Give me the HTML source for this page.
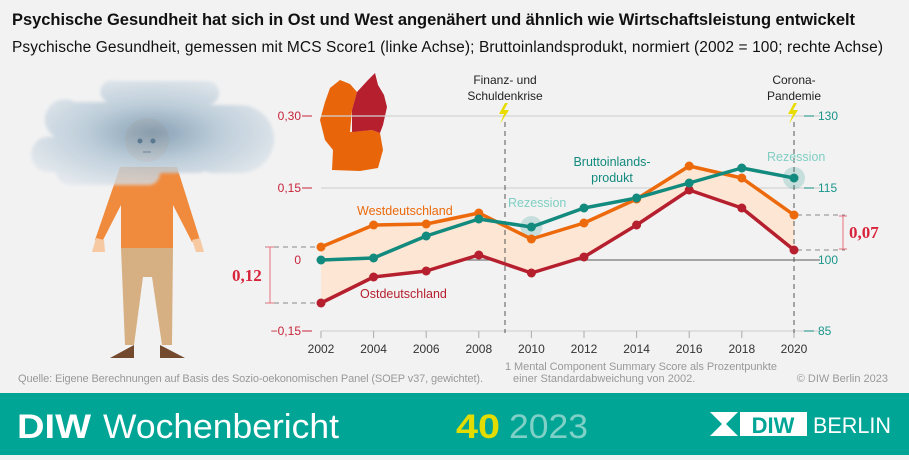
<!DOCTYPE html>
<html><head><meta charset="utf-8"><style>
body{margin:0;width:909px;height:455px;overflow:hidden;background:#f2f2f2;font-family:"Liberation Sans",sans-serif}
</style></head><body>
<svg width="909" height="455" viewBox="0 0 909 455" xmlns="http://www.w3.org/2000/svg" font-family="Liberation Sans, sans-serif">
<defs>
<radialGradient id="cg" cx="0.5" cy="0.5" r="0.6"><stop offset="0" stop-color="#7895ad" stop-opacity="0.95"/><stop offset="0.45" stop-color="#b3c6d4" stop-opacity="0.92"/><stop offset="1" stop-color="#e2e8ee" stop-opacity="0.85"/></radialGradient>
<filter id="bl"><feGaussianBlur stdDeviation="1.5"/></filter>
</defs>
<rect width="909" height="455" fill="#f2f2f2"/>
<text x="12" y="25" font-size="16.5" font-weight="bold" fill="#111" textLength="843">Psychische Gesundheit hat sich in Ost und West angenähert und ähnlich wie Wirtschaftsleistung entwickelt</text>
<text x="12" y="52" font-size="15.5" fill="#111" textLength="871">Psychische Gesundheit, gemessen mit MCS Score1 (linke Achse); Bruttoinlandsprodukt, normiert (2002 = 100; rechte Achse)</text>
<!-- person -->
<path d="M95 240 L120 167 L177 167 L200 240 L192 242 L173 205 L173 248 L121 248 L121 205 L102 242Z" fill="#f08a3c"/>
<path d="M121 248 L173 248 L172 345 L162 345 L152 277 L143 277 L134 345 L125 345Z" fill="#d6b083"/>
<path d="M96 238 L104 240 L105 252 L98 252 L92 252Z M192 240 L200 238 L204 252 L196 252Z" fill="#f7c9a3"/>
<path d="M110 358 L134 345 L134 358Z M160 345 L185 358 L160 358Z" fill="#744a2e"/>
<circle cx="147" cy="140" r="22" fill="#f7c9a3"/>
<g filter="url(#bl)" opacity="0.92"><path d="M115 81 H207 A12 12 0 0 1 207 105 H240 A20 20 0 0 1 240 173 H210 A10 10 0 0 0 200 173 H160 A12 12 0 0 1 150 185 H70 A14 14 0 0 1 56 172 H45 A18 18 0 0 1 45 137 H55 A20 20 0 0 1 75 102 H108 A10 10 0 0 1 115 81Z" fill="url(#cg)"/></g>
<circle cx="140" cy="141" r="2.5" fill="#5a7890"/><circle cx="153" cy="141" r="2.5" fill="#5a7890"/>
<line x1="143" y1="152" x2="151" y2="152" stroke="#6e8698" stroke-width="1"/>
<!-- map -->
<path d="M330 88 L340 80 L350 84 L357 92 L352 110 L350 132 L372 130 L380 133 L383 150 L378 168 L360 171 L332 170 L333 150 L325 140 L320 120 L325 102Z" fill="#e8650a"/>
<path d="M357 92 L368 80 L375 73 L378 85 L384 95 L387 107 L383 125 L380 133 L372 130 L352 132 L352 110Z" fill="#b51f2e"/>
<!-- grid -->
<g stroke="#d4d4d4" stroke-width="1.2"><line x1="321" y1="116" x2="820" y2="116"/><line x1="321" y1="188" x2="820" y2="188"/><line x1="321" y1="331" x2="820" y2="331"/></g>
<line x1="321" y1="260" x2="820" y2="260" stroke="#777" stroke-width="1.2"/>
<g stroke="#aaa"><line x1="321" y1="331" x2="321" y2="338"/><line x1="373.6" y1="331" x2="373.6" y2="338"/><line x1="426.2" y1="331" x2="426.2" y2="338"/><line x1="478.8" y1="331" x2="478.8" y2="338"/><line x1="531.4" y1="331" x2="531.4" y2="338"/><line x1="584" y1="331" x2="584" y2="338"/><line x1="636.6" y1="331" x2="636.6" y2="338"/><line x1="689.2" y1="331" x2="689.2" y2="338"/><line x1="741.8" y1="331" x2="741.8" y2="338"/><line x1="794" y1="331" x2="794" y2="338"/></g>
<g font-size="12" fill="#333" text-anchor="middle"><text x="321" y="353">2002</text><text x="373.6" y="353">2004</text><text x="426.2" y="353">2006</text><text x="478.8" y="353">2008</text><text x="531.4" y="353">2010</text><text x="584" y="353">2012</text><text x="636.6" y="353">2014</text><text x="689.2" y="353">2016</text><text x="741.8" y="353">2018</text><text x="794" y="353">2020</text></g>
<g font-size="12" fill="#c8243a" text-anchor="end"><text x="301" y="120">0,30</text><text x="301" y="192">0,15</text><text x="301" y="264">0</text><text x="301" y="335">−0,15</text></g>
<g stroke="#c8243a"><line x1="302" y1="116" x2="312" y2="116"/><line x1="302" y1="188" x2="312" y2="188"/><line x1="302" y1="331" x2="312" y2="331"/></g>
<g font-size="12" fill="#1a968a"><text x="818" y="120">130</text><text x="818" y="192">115</text><text x="818" y="264">100</text><text x="818" y="335">85</text></g>
<g stroke="#1a968a"><line x1="804" y1="116" x2="814" y2="116"/><line x1="804" y1="188" x2="814" y2="188"/><line x1="804" y1="331" x2="814" y2="331"/></g>
<!-- band -->
<path d="M321 247 L373.6 225 L426.2 224 L478.8 213 L531.4 239 L584 223 L636.6 199 L689.2 166 L741.8 178 L794 215 L794 250 L741.8 208 L689.2 190 L636.6 225 L584 257 L531.4 273 L478.8 255 L426.2 271 L373.6 277 L321 303Z" fill="#fde6d3"/>
<!-- vlines -->
<g stroke="#555" stroke-dasharray="5,4"><line x1="505" y1="122" x2="505" y2="333"/><line x1="794" y1="122" x2="794" y2="333"/></g>
<path d="M505 103 L499 114 L504 114 L500 124 L509 110 L504 110 L508 103Z M794 103 L788 114 L793 114 L789 124 L798 110 L793 110 L797 103Z" fill="#e8dc00"/>
<g font-size="12" fill="#222" text-anchor="middle"><text x="505" y="84">Finanz- und</text><text x="505" y="100">Schuldenkrise</text><text x="794" y="84">Corona-</text><text x="794" y="100">Pandemie</text></g>
<!-- diff markers -->
<g stroke="#888" stroke-dasharray="5,4"><line x1="265" y1="247" x2="319" y2="247"/><line x1="265" y1="303" x2="319" y2="303"/><line x1="797" y1="215" x2="845" y2="215"/><line x1="797" y1="250" x2="845" y2="250"/></g>
<g stroke="#e8707e"><line x1="270" y1="247" x2="270" y2="303"/><line x1="266" y1="247" x2="274" y2="247"/><line x1="266" y1="303" x2="274" y2="303"/><line x1="843" y1="216" x2="843" y2="249"/><line x1="839" y1="216" x2="847" y2="216"/><line x1="839" y1="249" x2="847" y2="249"/></g>
<text x="232" y="281" font-size="17" fill="#d8243a" font-family="Liberation Serif, serif" font-weight="bold">0,12</text>
<text x="849" y="238" font-size="17" fill="#d8243a" font-family="Liberation Serif, serif" font-weight="bold">0,07</text>
<!-- halos -->
<circle cx="531.4" cy="227" r="11" fill="#1a968a" opacity="0.2"/><circle cx="794" cy="178" r="11" fill="#1a968a" opacity="0.2"/>
<!-- series -->
<g fill="none" stroke-width="3.5" stroke-linejoin="round">
<polyline points="321,303 373.6,277 426.2,271 478.8,255 531.4,273 584,257 636.6,225 689.2,190 741.8,208 794,250" stroke="#b51f2e"/>
<polyline points="321,247 373.6,225 426.2,224 478.8,213 531.4,239 584,223 636.6,199 689.2,166 741.8,178 794,215" stroke="#ec6a0c"/>
<polyline points="321,260 373.6,258 426.2,236 478.8,219 531.4,227 584,208 636.6,198 689.2,183 741.8,168 794,178" stroke="#138a7e"/>
</g>
<g fill="#b51f2e"><circle cx="321" cy="303" r="4.5"/><circle cx="373.6" cy="277" r="4.5"/><circle cx="426.2" cy="271" r="4.5"/><circle cx="478.8" cy="255" r="4.5"/><circle cx="531.4" cy="273" r="4.5"/><circle cx="584" cy="257" r="4.5"/><circle cx="636.6" cy="225" r="4.5"/><circle cx="689.2" cy="190" r="4.5"/><circle cx="741.8" cy="208" r="4.5"/><circle cx="794" cy="250" r="4.5"/></g>
<g fill="#ec6a0c"><circle cx="321" cy="247" r="4.5"/><circle cx="373.6" cy="225" r="4.5"/><circle cx="426.2" cy="224" r="4.5"/><circle cx="478.8" cy="213" r="4.5"/><circle cx="531.4" cy="239" r="4.5"/><circle cx="584" cy="223" r="4.5"/><circle cx="636.6" cy="199" r="4.5"/><circle cx="689.2" cy="166" r="4.5"/><circle cx="741.8" cy="178" r="4.5"/><circle cx="794" cy="215" r="4.5"/></g>
<g fill="#138a7e"><circle cx="321" cy="260" r="4.5"/><circle cx="373.6" cy="258" r="4.5"/><circle cx="426.2" cy="236" r="4.5"/><circle cx="478.8" cy="219" r="4.5"/><circle cx="531.4" cy="227" r="4.5"/><circle cx="584" cy="208" r="4.5"/><circle cx="636.6" cy="198" r="4.5"/><circle cx="689.2" cy="183" r="4.5"/><circle cx="741.8" cy="168" r="4.5"/><circle cx="794" cy="178" r="4.5"/></g>
<!-- labels -->
<text x="357" y="215" font-size="12.5" fill="#ec6a0c">Westdeutschland</text>
<text x="360" y="298" font-size="12.5" fill="#b51f2e">Ostdeutschland</text>
<text x="612" y="166" font-size="12.5" fill="#138a7e" text-anchor="middle">Bruttoinlands-</text>
<text x="612" y="182" font-size="12.5" fill="#138a7e" text-anchor="middle">produkt</text>
<text x="508" y="207" font-size="12.5" fill="#7fcfc3">Rezession</text>
<text x="767" y="161" font-size="12.5" fill="#7fcfc3">Rezession</text>
<!-- footer text -->
<text x="18" y="382" font-size="11" fill="#999" textLength="465">Quelle: Eigene Berechnungen auf Basis des Sozio-oekonomischen Panel (SOEP v37, gewichtet).</text>
<text x="505" y="370" font-size="11" fill="#999" textLength="272">1  Mental Component Summary Score als Prozentpunkte</text>
<text x="513" y="382" font-size="11" fill="#999">einer Standardabweichung von 2002.</text>
<text x="888" y="382" font-size="11" fill="#999" text-anchor="end">© DIW Berlin 2023</text>
<rect x="0" y="393" width="909" height="62" fill="#00a596"/>
<text x="17" y="438" font-size="34" fill="#fff" font-weight="bold" textLength="74" lengthAdjust="spacingAndGlyphs">DIW</text>
<text x="103" y="438" font-size="34" fill="#fff" textLength="236" lengthAdjust="spacingAndGlyphs">Wochenbericht</text>
<text x="456" y="438" font-size="34" fill="#e3dc00" font-weight="bold" textLength="44" lengthAdjust="spacingAndGlyphs">40</text>
<text x="509" y="438" font-size="34" fill="#7fd0c6" textLength="79" lengthAdjust="spacingAndGlyphs">2023</text>
<path d="M710 412 L738 412 L726 424 L738 436 L710 436 L722 424Z" fill="#fff"/>
<rect x="740" y="412" width="67" height="24" fill="#fff"/>
<text x="773" y="433" font-size="22" fill="#00a596" font-weight="bold" text-anchor="middle">DIW</text>
<text x="813" y="433" font-size="22" fill="#fff" textLength="78" lengthAdjust="spacingAndGlyphs">BERLIN</text>
</svg>
</body></html>
